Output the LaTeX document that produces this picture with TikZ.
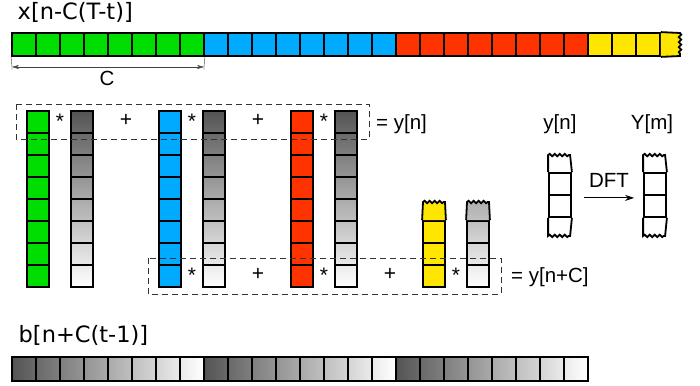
\documentclass[tikz,border=0pt]{standalone}
\usepackage{fontspec}
\setmainfont{Liberation Sans}
\newfontfamily\dejavu{DejaVu Sans}
\usetikzlibrary{decorations.pathmorphing,arrows.meta}

\definecolor{cgreen}{RGB}{0,221,0}
\definecolor{cblue}{RGB}{0,170,255}
\definecolor{cred}{RGB}{255,51,0}
\definecolor{cyellow}{RGB}{255,230,0}

% window shading, one per cell, left to right
\pgfdeclarehorizontalshading{bsh0}{100bp}{color(0bp)=(black!67); color(25bp)=(black!67); color(75bp)=(black!58.6); color(100bp)=(black!58.6)}
\pgfdeclarehorizontalshading{bsh1}{100bp}{color(0bp)=(black!58.6); color(25bp)=(black!58.6); color(75bp)=(black!50.2); color(100bp)=(black!50.2)}
\pgfdeclarehorizontalshading{bsh2}{100bp}{color(0bp)=(black!50.2); color(25bp)=(black!50.2); color(75bp)=(black!41.8); color(100bp)=(black!41.8)}
\pgfdeclarehorizontalshading{bsh3}{100bp}{color(0bp)=(black!41.8); color(25bp)=(black!41.8); color(75bp)=(black!33.4); color(100bp)=(black!33.4)}
\pgfdeclarehorizontalshading{bsh4}{100bp}{color(0bp)=(black!33.4); color(25bp)=(black!33.4); color(75bp)=(black!25); color(100bp)=(black!25)}
\pgfdeclarehorizontalshading{bsh5}{100bp}{color(0bp)=(black!25); color(25bp)=(black!25); color(75bp)=(black!16.6); color(100bp)=(black!16.6)}
\pgfdeclarehorizontalshading{bsh6}{100bp}{color(0bp)=(black!16.6); color(25bp)=(black!16.6); color(75bp)=(black!8.2); color(100bp)=(black!8.2)}
\pgfdeclarehorizontalshading{bsh7}{100bp}{color(0bp)=(black!8.2); color(25bp)=(black!8.2); color(75bp)=(white); color(100bp)=(white)}

\tikzset{
  cell/.style={draw, line width=1.8pt, rectangle, inner sep=0pt},
  hcell/.style={cell, minimum width=24pt, minimum height=23pt},
  vcell/.style={cell, minimum width=22pt, minimum height=22pt},
  wavy/.style={decorate, decoration={snake, segment length=5pt, amplitude=1.2pt}},
  sumbox/.style={dash pattern=on 6pt off 4pt, line width=1pt, black!80},
  big/.style={font=\dejavu\fontsize{22.5}{26}\selectfont, inner sep=0pt},
  lbl/.style={font=\fontsize{20.5}{24}\selectfont, inner sep=0pt},
  op/.style={font=\fontsize{21}{24}\selectfont, inner sep=0pt},
}

\begin{document}
\begin{tikzpicture}[x=1pt, y=-1pt]
  \useasboundingbox (0,0) rectangle (700,385);

  % Input signal x
  \node[big, anchor=base west] (xlbl) at (17.5,19.5) {x[n-C(T-t)]};
  \foreach \c [count=\k from 0] in {cgreen,cblue,cred}
    \foreach \i in {0,...,7}
      \node[hcell, fill=\c] (x\k\i) at ({24+24*(8*\k+\i)},44.5) {};
  \foreach \i in {0,1,2}
    \node[hcell, fill=cyellow] (x3\i) at ({24+24*(24+\i)},44.5) {};
  \draw[line width=1.8pt, fill=cyellow] (x32.north east) -- (680,33)
    decorate[wavy]{-- (680,56)} -- (x32.south east);

  % Block length C
  \coordinate (cL) at (12,67);
  \coordinate (cR) at (204,67);
  \draw[black!75] (x00.south west) -- (cL) -- ++(0,3);
  \draw[black!75] (x07.south east) -- (cR) -- ++(0,3);
  \draw[black!75, {Stealth[length=7pt,width=4pt]}-{Stealth[length=7pt,width=4pt]}] (cL) -- (cR);
  \node[lbl, anchor=base] (clbl) at (107,85) {C};

  % Blocks of x times window b
  \foreach \c [count=\k from 0] in {cgreen,cblue,cred} {
    \foreach \j [evaluate=\j as \tp using 67-8.4*\j,
                 evaluate=\j as \bt using 67-8.4*(\j+1)] in {0,...,7} {
      \node[vcell, fill=\c] (s\k\j) at ({38+132*\k},{122+22*\j}) {};
      \node[vcell, top color=black!\tp, bottom color=black!\bt] (w\k\j) at ({82+132*\k},{122+22*\j}) {};
    }
  }
  % last block is cut off
  \foreach \j [evaluate=\j as \tp using 67-8.4*\j,
               evaluate=\j as \bt using 67-8.4*(\j+1)] in {5,6,7} {
    \node[vcell, fill=cyellow] (s3\j) at (434,{122+22*\j}) {};
    \node[vcell, top color=black!\tp, bottom color=black!\bt] (w3\j) at (478,{122+22*\j}) {};
  }
  \draw[line width=1.8pt, fill=cyellow] (s35.north west) -- (423,202)
    decorate[wavy]{-- (445,202)} -- (s35.north east);
  \draw[line width=1.8pt, top color=black!31, bottom color=black!25] (w35.north west) -- (467,202)
    decorate[wavy]{-- (489,202)} -- (w35.north east);

  % products and sums
  \foreach \x in {60,192,324}
    \node[op] at (\x,121) {*};
  \foreach \x in {126,258}
    \node[op] at (\x,120) {+};
  \foreach \x in {192,324,456}
    \node[op] at (\x,275) {*};
  \foreach \x in {258,390}
    \node[op] at (\x,274) {+};

  \draw[sumbox] (16,104) rectangle (369,139);
  \draw[sumbox] (148,258) rectangle (501,294);
  \node[lbl, anchor=west] (yn0) at (376,124.5) {= y[n]};
  \node[lbl, anchor=west] (ynC) at (511,277.5) {= y[n+C]};

  % DFT of y
  \node[lbl] (ylbl) at (560,124.5) {y[n]};
  \node[lbl] (Ylbl) at (652,124.5) {Y[m]};
  \foreach \x/\n in {560/yn, 655/Ym} {
    \node[vcell, fill=white] (\n1) at (\x,184) {};
    \node[vcell, fill=white] (\n2) at (\x,206) {};
    \draw[line width=1.8pt] (\n1.north west) -- ++(0,-17)
      decorate[wavy]{-- ++(22,0)} -- (\n1.north east);
    \draw[line width=1.8pt] (\n2.south west) -- ++(0,18)
      decorate[wavy]{-- ++(22,0)} -- (\n2.south east);
  }
  \draw[-{Stealth[length=9pt,width=6pt]}, line width=1pt] ([xshift=12pt,yshift=-2pt]yn1.south east) --
    node[lbl, above=10pt] {DFT} ([xshift=-9pt,yshift=-2pt]Ym1.south west);

  % Window b
  \node[big, anchor=base west] (blbl) at (18.5,342) {b[n+C(t-1)]};
  \foreach \k in {0,1,2}
    \foreach \i in {0,...,7}
      \node[hcell, minimum height=24pt, shading=bsh\i] (b\k\i)
        at ({24+24*(8*\k+\i)},369) {};
\end{tikzpicture}
\end{document}
